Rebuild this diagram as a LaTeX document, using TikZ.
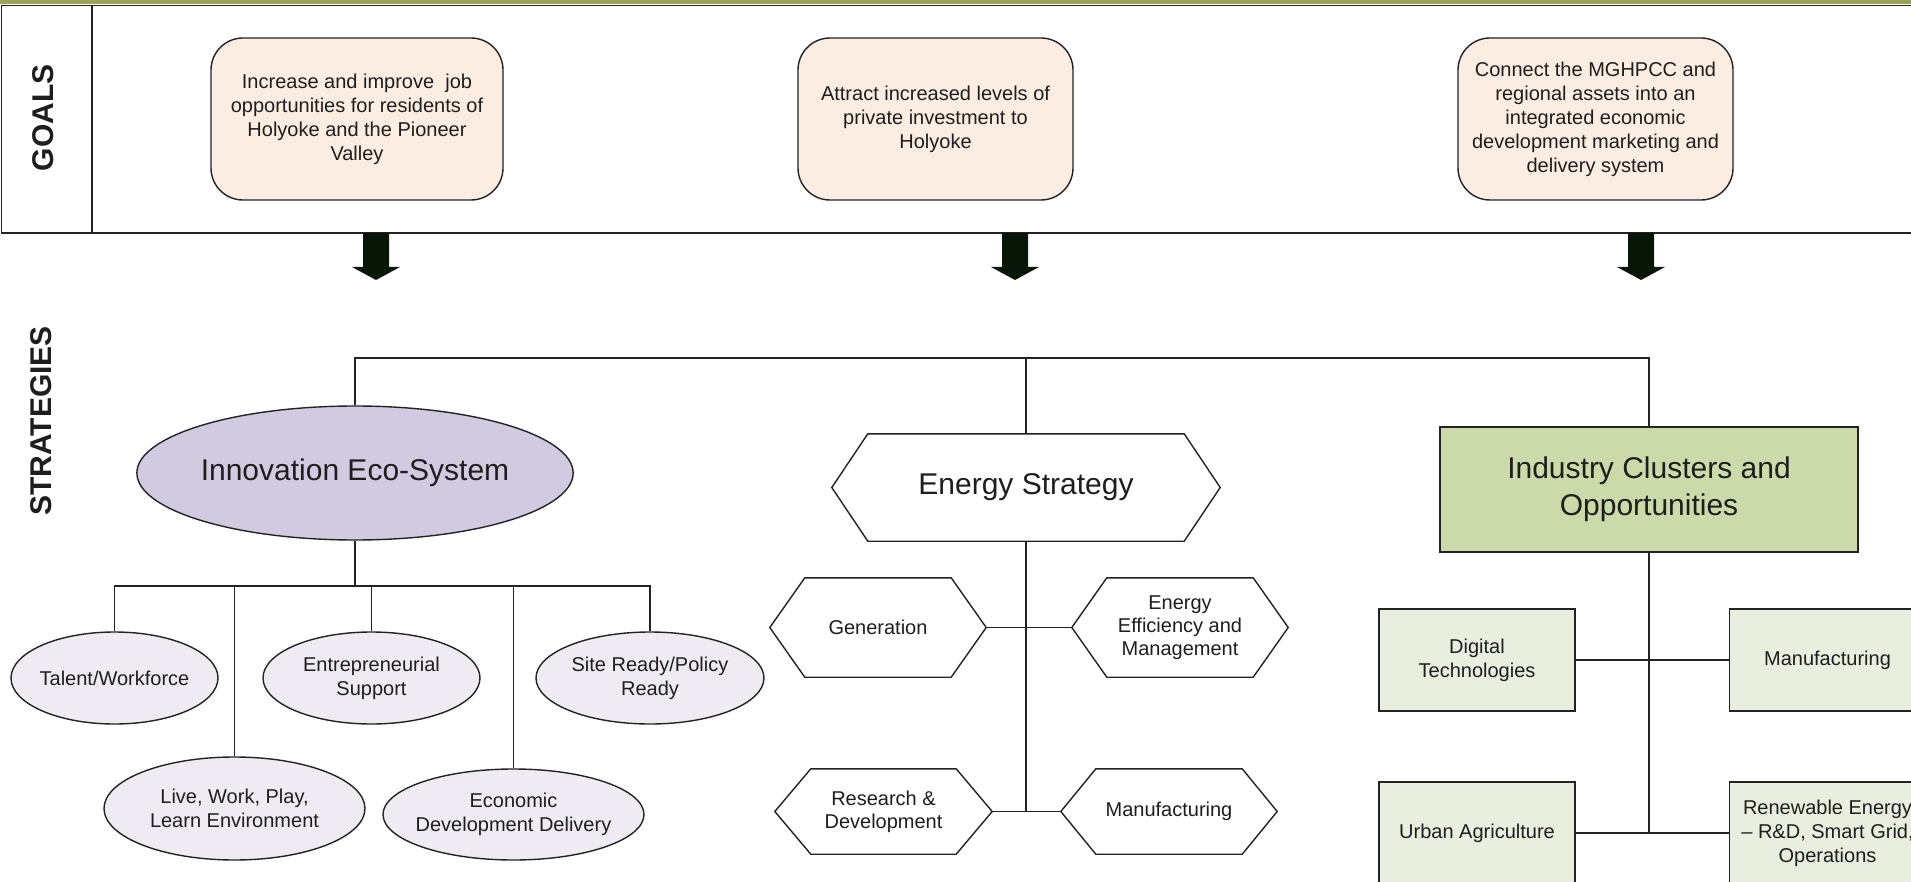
\documentclass[tikz,border=0pt]{standalone}
\usepackage{fontspec}
\setmainfont{Liberation Sans}
\usetikzlibrary{shapes.geometric,calc}
\definecolor{olive}{RGB}{158,163,92}
\definecolor{linecol}{RGB}{35,35,35}
\definecolor{txt}{RGB}{30,30,30}
\definecolor{goalfill}{RGB}{252,237,226}
\definecolor{innfill}{RGB}{210,202,224}
\definecolor{subellfill}{RGB}{238,236,242}
\definecolor{indfill}{RGB}{204,218,170}
\definecolor{subrectfill}{RGB}{234,238,222}
\definecolor{arrowcol}{RGB}{8,22,8}
\newcommand\hexdraw[2]{\draw[hexline] (#1.west) -- ([xshift=#2]#1.north west) -- ([xshift=-#2]#1.north east) -- (#1.east) -- ([xshift=-#2]#1.south east) -- ([xshift=#2]#1.south west) -- cycle;}
\begin{document}
\begin{tikzpicture}[x=1pt,y=-1pt,
  conn/.style={draw=linecol, line width=1.8pt},
  panel/.style={draw=linecol, line width=1.8pt},
  lane/.style={rotate=90, text=txt, font=\fontsize{30}{36}\selectfont\bfseries},
  goal/.style={draw=linecol, line width=1.4pt, fill=goalfill, rounded corners=32pt, minimum height=162pt, align=center, text=txt, inner sep=0pt, font=\fontsize{20}{24}\selectfont},
  bigell/.style={ellipse, draw=linecol, line width=1.4pt, fill=innfill, inner sep=0pt, text=txt, font=\fontsize{30}{36}\selectfont},
  subell/.style={ellipse, draw=linecol, line width=1.4pt, fill=subellfill, inner sep=0pt},
  subtext/.style={align=center, text=txt, font=\fontsize{20}{24}\selectfont},
  hexn/.style={rectangle, inner sep=0pt, align=center, text=txt},
  hexline/.style={draw=linecol, line width=1.4pt},
  bigrect/.style={rectangle, draw=linecol, line width=1.4pt, fill=indfill, inner sep=0pt, align=center, text=txt, font=\fontsize{30}{37}\selectfont},
  subrect/.style={rectangle, draw=linecol, line width=1.4pt, fill=subrectfill, inner sep=0pt, align=center, text=txt, minimum width=196pt, minimum height=102pt, font=\fontsize{20}{24}\selectfont}
]
\useasboundingbox (0,0) rectangle (1911,882);
\clip (0,0) rectangle (1911,882);
\fill[white] (0,0) rectangle (1911,882);

% top band and goals panel
\fill[olive] (0,0) rectangle (1911,4.5);
\draw[panel] (1.5,5.5) rectangle (1930,233);
\draw[panel] (92,5.5) -- (92,233);
\node[lane] (goalslbl) at (43,118) {GOALS};
\node[lane] (stratlbl) at (41,421) {STRATEGIES};

% goals
\node[goal, minimum width=292pt] (g1) at (357,119) {Increase and improve~ job\\opportunities for residents of\\Holyoke and the Pioneer\\Valley};
\node[goal, minimum width=275pt] (g2) at (935.5,119) {Attract increased levels of\\private investment to\\Holyoke};
\node[goal, minimum width=275pt] (g3) at (1595.5,119) {Connect the MGHPCC and\\regional assets into an\\integrated economic\\development marketing and\\delivery system};

% block arrows
\foreach \ax in {376,1015,1641} {
  \fill[arrowcol] (\ax-13,233) -- (\ax+13,233) -- (\ax+13,267) -- (\ax+24,267) -- (\ax,280) -- (\ax-24,267) -- (\ax-13,267) -- cycle;
}

% strategies
\node[bigell, minimum width=426pt, minimum height=134pt] (inn) at (355,473) {Innovation Eco-System};
\node[hexn, minimum width=388pt, minimum height=107pt, font=\fontsize{30}{36}\selectfont] (en) at (1026,487.5) {Energy Strategy};
\hexdraw{en}{36pt}
\node[bigrect, minimum width=418pt, minimum height=125pt] (ind) at (1649,489.5) {Industry Clusters and\\Opportunities};

\coordinate (topbus) at (0,358);
\draw[conn] (inn.north) -- (inn.north |- topbus) -- (ind.north |- topbus) -- (ind.north);
\draw[conn] (en.north) -- (en.north |- topbus);

% innovation children
\node[subell, minimum width=207pt, minimum height=92pt, label={[subtext]center:{Talent/Workforce}}] (tal) at (114.5,678) {};
\node[subell, minimum width=217pt, minimum height=92pt, label={[subtext]center:{Entrepreneurial\\Support}}] (ent) at (371.5,678) {};
\node[subell, minimum width=228pt, minimum height=92pt, label={[subtext]center:{Site Ready/Policy\\Ready}}] (site) at (650,678) {};
\node[subell, minimum width=261pt, minimum height=103pt, label={[subtext]center:{Live, Work, Play,\\Learn Environment}}] (live) at (234.5,808.5) {};
\node[subell, minimum width=261pt, minimum height=91pt, label={[subtext]center:{Economic\\Development Delivery}}] (eco) at (513.5,814.5) {};

\coordinate (subbus) at (0,586);
\draw[conn] (inn.south) -- (inn.south |- subbus);
\draw[conn] (tal.north) -- (tal.north |- subbus) -- (site.north |- subbus) -- (site.north);
\draw[conn] (live.north) -- (live.north |- subbus);
\draw[conn] (ent.north) -- (ent.north |- subbus);
\draw[conn] (eco.north) -- (eco.north |- subbus);

% energy children
\node[hexn, minimum width=216pt, minimum height=99pt, font=\fontsize{20}{23}\selectfont] (gen) at (878,627.5) {Generation};
\hexdraw{gen}{35pt}
\node[hexn, minimum width=216pt, minimum height=99pt, font=\fontsize{20}{23}\selectfont] (eem) at (1180,627.5) {Energy\\Efficiency and\\Management};
\hexdraw{eem}{35pt}
\node[hexn, minimum width=217pt, minimum height=85pt, font=\fontsize{20}{23}\selectfont] (rd) at (883.5,811.5) {Research \&\\Development};
\hexdraw{rd}{36pt}
\node[hexn, minimum width=216pt, minimum height=85pt, font=\fontsize{20}{23}\selectfont] (emf) at (1169,811.5) {Manufacturing};
\hexdraw{emf}{35pt}

\draw[conn] (en.south) -- (en.south |- rd.east);
\draw[conn] (gen.east) -- (eem.west);
\draw[conn] (rd.east) -- (emf.west);

% industry children
\node[subrect] (dig) at (1477,660) {Digital\\Technologies};
\node[subrect] (imf) at (1827.5,660) {Manufacturing};
\node[subrect] (urb) at (1477,833) {Urban Agriculture};
\node[subrect] (ren) at (1827.5,833) {Renewable Energy\\– R\&D, Smart Grid,\\Operations};

\draw[conn] (ind.south) -- (ind.south |- urb.east);
\draw[conn] (dig.east) -- (imf.west);
\draw[conn] (urb.east) -- (ren.west);
\end{tikzpicture}
\end{document}
